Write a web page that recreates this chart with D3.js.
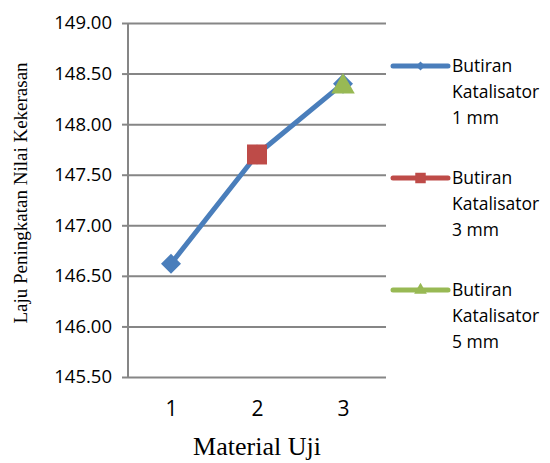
<!DOCTYPE html>
<html>
<head>
<meta charset="utf-8">
<script src="https://cdn.jsdelivr.net/npm/d3@7"></script>
<style>
  body { margin: 0; background: #fff; }
  text { fill: #000; }
</style>
</head>
<body>
<div id="vis"></div>
<script>
var w = 550;
var h = 463;

// data
var categories = ["1", "2", "3"];
var yTicks = [145.5, 146, 146.5, 147, 147.5, 148, 148.5, 149];
var series1mm = [146.62, 147.70, 148.40];
var series3mm = [null, 147.70, null];
var series5mm = [null, null, 148.40];
var seriesNames = ["Butiran Katalisator 1 mm", "Butiran Katalisator 3 mm", "Butiran Katalisator 5 mm"];
var seriesColors = ["#4a7ebb", "#be4b48", "#98b954"];
var seriesShapes = [d3.symbolSquare, d3.symbolSquare, d3.symbolTriangle];
var seriesRotate = [45, 0, 0];

var margin = { top: 23, left: 128, right: 164, bottom: 86 };

var canvas = d3.select("#vis").append("svg").attr("width", w).attr("height", h);

var x = d3.scalePoint()
  .domain(categories)
  .range([margin.left, w - margin.right])
  .padding(0.5);

var y = d3.scaleLinear()
  .domain([145.5, 149])
  .range([h - margin.bottom, margin.top]);

// gridlines + left ticks
var yAxis = canvas.append("g")
  .attr("transform", "translate(" + margin.left + ",0)")
  .call(d3.axisLeft(y)
    .tickValues(yTicks)
    .tickFormat(d3.format(".2f"))
    .tickSize(6)
    .tickPadding(10));
yAxis.select(".domain").remove();
yAxis.selectAll(".tick line").attr("stroke", "#868686").attr("stroke-width", 2);
yAxis.selectAll(".tick").append("line")
  .attr("x1", 0)
  .attr("x2", w - margin.right - margin.left)
  .attr("stroke", "#868686")
  .attr("stroke-width", 2);
yAxis.selectAll("text")
  .style("font-family", "'Open Sans'")
  .style("font-size", "18.5px")
  .attr("fill", "#000");

// vertical axis line
canvas.append("line")
  .attr("x1", margin.left).attr("x2", margin.left)
  .attr("y1", y(149)).attr("y2", y(145.5))
  .attr("stroke", "#868686").attr("stroke-width", 2);

// x axis labels
var xAxis = canvas.append("g")
  .attr("transform", "translate(0," + (h - margin.bottom) + ")")
  .call(d3.axisBottom(x).tickSize(0).tickPadding(24));
xAxis.select(".domain").remove();
xAxis.selectAll("text")
  .style("font-family", "'Open Sans'")
  .style("font-size", "21px")
  .attr("fill", "#000");

// axis titles
canvas.append("text")
  .attr("x", x("2"))
  .attr("y", 455)
  .attr("text-anchor", "middle")
  .style("font-family", "'Liberation Serif'")
  .style("font-size", "26px")
  .text("Material Uji");

canvas.append("text")
  .attr("transform", "translate(27,193) rotate(-90)")
  .attr("text-anchor", "middle")
  .style("font-family", "'Liberation Serif'")
  .style("font-size", "19px")
  .text("Laju Peningkatan Nilai Kekerasan");

// line of the 1 mm series
var line = d3.line()
  .defined(function (d) { return d != null; })
  .x(function (d, i) { return x(categories[i]); })
  .y(function (d) { return y(d); });

canvas.append("path")
  .datum(series1mm)
  .attr("d", line)
  .attr("fill", "none")
  .attr("stroke", seriesColors[0])
  .attr("stroke-width", 5)
  .attr("stroke-linejoin", "round");

// markers
var allSeries = [series1mm, series3mm, series5mm];
var markerSizes = [200, 400, 240];
allSeries.forEach(function (vals, s) {
  canvas.append("g").selectAll("path")
    .data(vals.map(function (v, i) { return { v: v, c: categories[i] }; })
      .filter(function (d) { return d.v != null; }))
    .enter().append("path")
    .attr("transform", function (d) {
      var dy = s == 2 ? 3 : 0;
      return "translate(" + x(d.c) + "," + (y(d.v) + dy) + ") rotate(" + seriesRotate[s] + ")";
    })
    .attr("d", d3.symbol().type(seriesShapes[s]).size(markerSizes[s]))
    .attr("fill", seriesColors[s]);
});

// legend
var legend = canvas.append("g").attr("transform", "translate(393,66)");
var entries = legend.selectAll("g").data(seriesNames).enter().append("g")
  .attr("transform", function (d, i) { return "translate(0," + i * 112 + ")"; });
entries.append("line")
  .attr("x1", 0).attr("x2", 55)
  .attr("stroke", function (d, i) { return seriesColors[i]; })
  .attr("stroke-width", 5)
  .attr("stroke-linecap", "round");
entries.append("path")
  .attr("transform", function (d, i) { return "translate(27.5,0) rotate(" + seriesRotate[i] + ")"; })
  .attr("d", function (d, i) {
    return d3.symbol().type(seriesShapes[i]).size([40, 110, 70][i])();
  })
  .attr("fill", function (d, i) { return seriesColors[i]; });
entries.append("text")
  .attr("x", 59)
  .attr("y", 6)
  .style("font-family", "'Open Sans'")
  .style("font-size", "17.5px")
  .selectAll("tspan")
  .data(function (d) { return ["Butiran", "Katalisator", d.split(" ").slice(2).join(" ")]; })
  .enter().append("tspan")
  .attr("x", 59)
  .attr("dy", function (d, i) { return i == 0 ? 0 : 26; })
  .text(function (d) { return d; });
</script>
</body>
</html>
